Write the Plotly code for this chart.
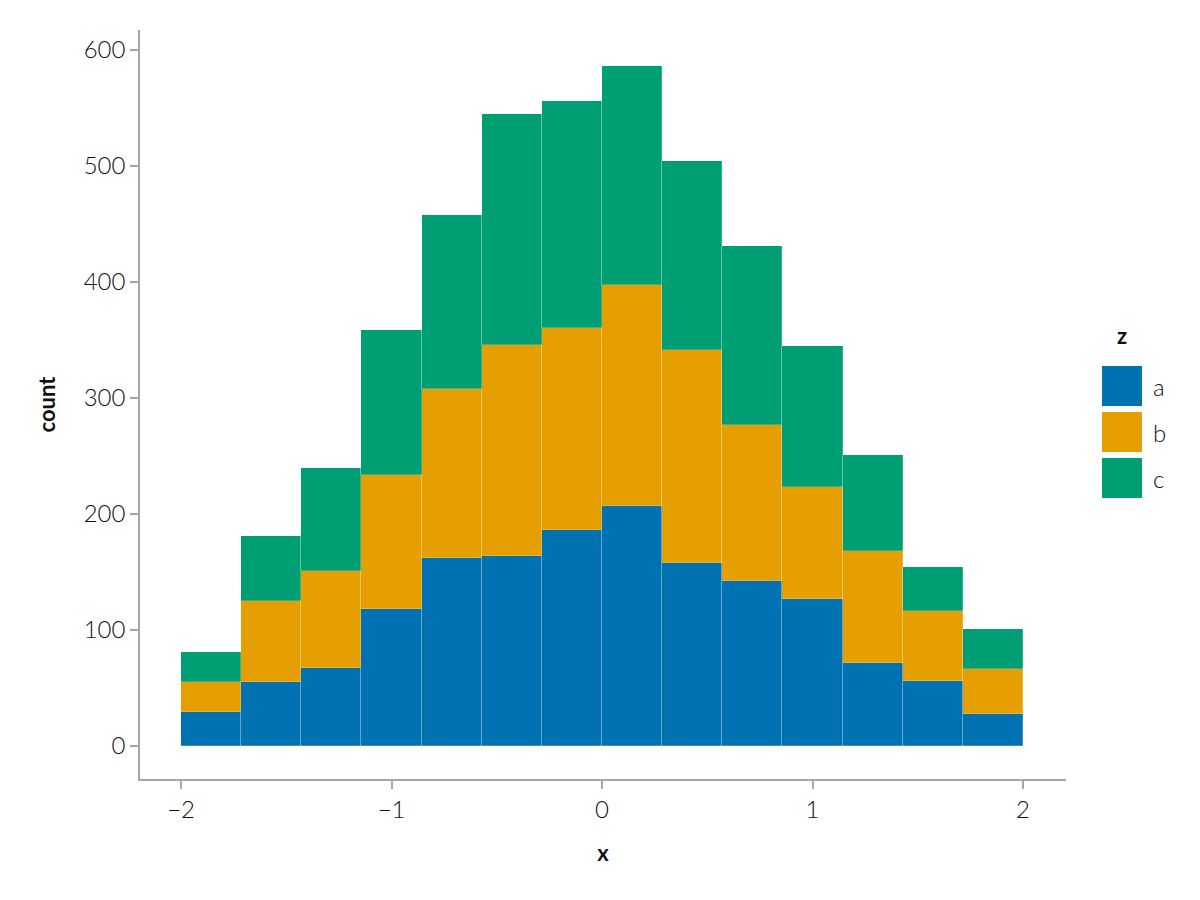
import plotly.graph_objects as go

# bin edges: 14 bins from -2 to 2
bin_start = -2.0
bin_end = 2.0
n_bins = 14
groups = ["a", "b", "c"]
counts_a = [29, 55, 67, 118, 162, 164, 186, 207, 158, 142, 127, 72, 56, 28]
counts_b = [26, 70, 84, 116, 146, 182, 174, 190, 183, 135, 96, 96, 60, 38]
counts_c = [26, 56, 89, 125, 150, 199, 196, 189, 163, 154, 122, 83, 38, 35]
colors = ["#0072B2", "#E69F00", "#009E73"]
x_ticks = [-2, -1, 0, 1, 2]
x_tick_labels = ["\u22122", "\u22121", "0", "1", "2"]
y_ticks = [0, 100, 200, 300, 400, 500, 600]

width = (bin_end - bin_start) / n_bins
centers = [bin_start + width * (i + 0.5) for i in range(n_bins)]

FONT = "Lato"
TICKFONT = dict(family=FONT, size=24, color="#111", weight=300)
TITLEFONT = dict(family=FONT, size=22, color="#111", weight=700)

fig = go.Figure()
for g, vals, col in zip(groups, [counts_a, counts_b, counts_c], colors):
    fig.add_trace(go.Bar(
        x=centers, y=vals, width=width, name=g,
        marker=dict(color=col, line=dict(color="rgba(255,255,255,0.3)", width=0.7)),
        showlegend=False,
    ))

# page is offset by the browser's 8px body margin
OFF = 8
W, H = 1200, 900
L, R, T, B = 140 - OFF, 1200 - 1066 + OFF, 30 - OFF, 900 - 779 + OFF
pw, ph = W - L - R, H - T - B

def px(x):
    return (x - OFF - L) / pw

def py(y):
    return (H - B - (y - OFF)) / ph

shapes = []
annotations = []
annotations.append(dict(x=px(1122), y=py(335), xref="paper", yref="paper", text="z",
                        showarrow=False, font=TITLEFONT,
                        xanchor="center", yanchor="middle"))
for i, (g, col) in enumerate(zip(groups, colors)):
    top = 366 + i * 46
    shapes.append(dict(type="rect", xref="paper", yref="paper",
                       x0=px(1102), x1=px(1142), y0=py(top + 40), y1=py(top),
                       fillcolor=col, line=dict(width=0)))
    annotations.append(dict(x=px(1151), y=py(top + 20), xref="paper", yref="paper", text=g,
                            showarrow=False, font=TICKFONT,
                            xanchor="left", yanchor="middle"))

fig.update_layout(
    width=W, height=H,
    barmode="stack", bargap=0,
    plot_bgcolor="white", paper_bgcolor="white",
    margin=dict(l=L, r=R, t=T, b=B),
    font=dict(family=FONT, size=20, color="#222"),
    shapes=shapes, annotations=annotations,
)
fig.update_xaxes(
    range=[-2.195, 2.204], tickvals=x_ticks, ticktext=x_tick_labels,
    showgrid=False, zeroline=False, showline=True, linecolor="#a6a6a6", linewidth=1.5,
    ticks="outside", ticklen=8, tickcolor="#a6a6a6", tickwidth=1.5,
    tickfont=TICKFONT,
    title=dict(text="x", font=TITLEFONT, standoff=24),
)
fig.update_yaxes(
    range=[-28.4, 617.2], tickvals=y_ticks,
    showgrid=False, zeroline=False, showline=True, linecolor="#a6a6a6", linewidth=1.5,
    ticks="outside", ticklen=8, tickcolor="#a6a6a6", tickwidth=1.5,
    tickfont=TICKFONT,
    title=dict(text="count", font=TITLEFONT, standoff=22),
)

fig.write_html("out.html")
